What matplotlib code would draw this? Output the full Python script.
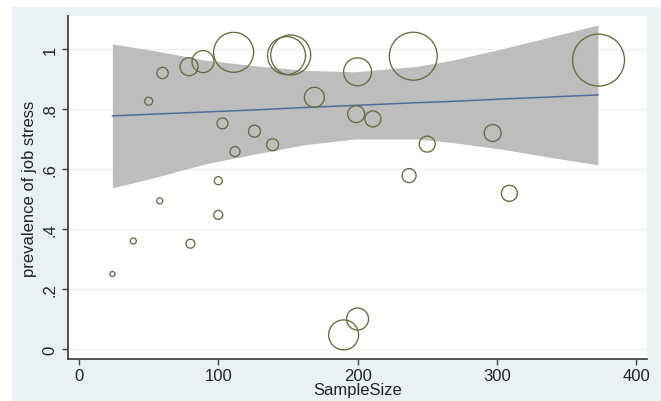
import matplotlib
matplotlib.use("Agg")
import matplotlib.pyplot as plt
from matplotlib.patches import Rectangle
import numpy as np

plt.rcParams['font.family'] = ['Liberation Sans', 'DejaVu Sans']

# ---- data ----
sample_size = [24, 39, 50, 58, 60, 79, 80, 89, 100, 100, 103, 111, 112, 126, 139,
               149, 152, 169, 190, 199, 200, 200, 211, 237, 240, 250, 297, 309, 373]
prevalence = [0.250, 0.360, 0.826, 0.494, 0.920, 0.941, 0.351, 0.958, 0.561, 0.447,
              0.752, 0.989, 0.658, 0.726, 0.681, 0.978, 0.980, 0.839, 0.047, 0.783,
              0.924, 0.100, 0.767, 0.578, 0.976, 0.683, 0.720, 0.519, 0.963]
weight = [6.3, 9, 16, 9, 32, 81, 20, 121, 16, 20, 30, 400, 25, 36, 36,
          361, 400, 100, 225, 72, 196, 121, 64, 49, 576, 64, 72, 64, 676]

band_x = [24, 54.6, 90.5, 126.3, 162.2, 198.1, 242.4, 266.3, 302.2, 338.1, 372.6]
fit_y = [0.777, 0.783, 0.790, 0.797, 0.805, 0.812, 0.821, 0.825, 0.833, 0.840, 0.847]
band_lower = [0.537, 0.572, 0.617, 0.650, 0.681, 0.700, 0.700, 0.689, 0.667, 0.639, 0.614]
band_upper = [1.017, 0.994, 0.963, 0.944, 0.929, 0.924, 0.942, 0.961, 0.999, 1.040, 1.080]

x_ticks = [0, 100, 200, 300, 400]
y_ticks = [0, 0.2, 0.4, 0.6, 0.8, 1.0]
y_tick_labels = ['0', '.2', '.4', '.6', '.8', '1']

# ---- figure ----
W, H = 661, 402
fig = plt.figure(figsize=(W / 100, H / 100), dpi=100)
fig.patch.set_facecolor('white')
fig.add_artist(Rectangle((12 / W, 0), 1 - 12 / W, (H - 8) / H,
                         transform=fig.transFigure, facecolor='#e9f1f4',
                         edgecolor='none', zorder=0))

ax = fig.add_axes([68 / W, (H - 360) / H, (647 - 68) / W, (360 - 17) / H])
ax.set_facecolor('white')

ax.fill_between(band_x, band_lower, band_upper, color='#bdbdbd', lw=0, zorder=2)
ax.plot(band_x, fit_y, color='#4d6d98', lw=1.1, zorder=3)
sizes = np.array(weight) * 2.07
ax.scatter(sample_size, prevalence, s=sizes, facecolors='none',
           edgecolors='#616d3e', linewidths=0.95, zorder=4)

ax.set_xlim(-7.9, 407.8)
ax.set_ylim(-0.0333, 1.11)
ax.set_xticks(x_ticks)
ax.set_yticks(y_ticks)
ax.set_yticklabels(y_tick_labels, rotation=90, va='center')
for y in y_ticks:
    ax.axhline(y, color='#eaf1f4', lw=0.9, zorder=1)

for s in ['top', 'right']:
    ax.spines[s].set_visible(False)
for s in ['left', 'bottom']:
    ax.spines[s].set_color('#444444')
    ax.spines[s].set_linewidth(1.3)
ax.tick_params(axis='both', colors='#444444', labelcolor='#222222',
               labelsize=12, length=4.5, width=1.0)
ax.tick_params(axis='y', pad=3)
ax.tick_params(axis='x', pad=2)

ax.set_xlabel('SampleSize', fontsize=12, color='#222222', labelpad=-1)
ax.set_ylabel('prevalence of job stress', fontsize=12, color='#222222', labelpad=4)

fig.savefig('out.png', dpi=100, facecolor=fig.get_facecolor())
